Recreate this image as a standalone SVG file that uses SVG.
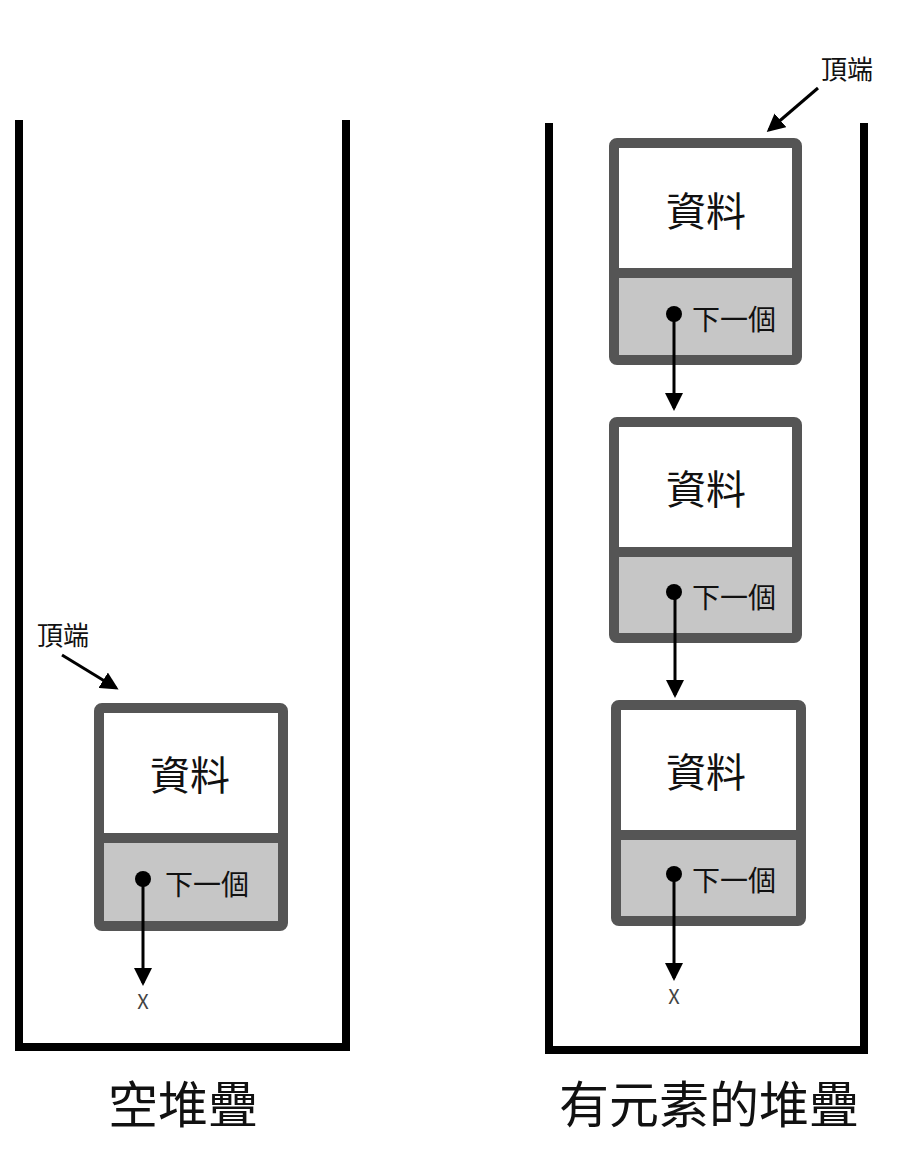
<svg xmlns="http://www.w3.org/2000/svg" width="920" height="1152" viewBox="0 0 920 1152">
<style>
.wall{fill:none;stroke:#000;stroke-width:8}
.box{fill:#fff;stroke:#555;stroke-width:10}
.low{fill:#c6c6c6}
.div{stroke:#555;stroke-width:10}
.t{font-family:"Noto Sans CJK TC","Noto Sans",sans-serif;fill:#111}
.ln{stroke:#000;stroke-width:3;fill:none}
</style>
<defs><marker id="ah" markerWidth="6" markerHeight="6" refX="5" refY="3" orient="auto" markerUnits="strokeWidth"><path d="M0,0L6,3L0,6z" fill="#000"/></marker></defs>
<g id="stack-empty"><path class="wall" d="M19,120V1047H346V120"/></g>
<g id="stack-full"><path class="wall" d="M549,123V1050H864V123"/></g>
<g id="node-left">
<rect class="box" x="99" y="708" width="184" height="218" rx="3"/>
<rect class="low" x="104" y="843" width="174" height="78"/>
<line class="div" x1="104" y1="838" x2="278" y2="838"/>
<text class="t" x="190" y="790" font-size="40" text-anchor="middle">資料</text>
<text class="t" x="165" y="895" font-size="28">下一個</text>
<circle cx="143" cy="879" r="8" fill="#000"/>
</g>
<g id="node-r1">
<rect class="box" x="614" y="143" width="183" height="217" rx="3"/>
<rect class="low" x="619" y="278" width="173" height="77"/>
<line class="div" x1="619" y1="273" x2="792" y2="273"/>
<text class="t" x="706" y="226" font-size="40" text-anchor="middle">資料</text>
<text class="t" x="692" y="330" font-size="28">下一個</text>
<circle cx="674" cy="314" r="8" fill="#000"/>
</g>
<g id="node-r2">
<rect class="box" x="614" y="422" width="183" height="216" rx="3"/>
<rect class="low" x="619" y="557" width="173" height="76"/>
<line class="div" x1="619" y1="552" x2="792" y2="552"/>
<text class="t" x="706" y="504" font-size="40" text-anchor="middle">資料</text>
<text class="t" x="692" y="608" font-size="28">下一個</text>
<circle cx="674" cy="592" r="8" fill="#000"/>
</g>
<g id="node-r3">
<rect class="box" x="616" y="705" width="185" height="216" rx="3"/>
<rect class="low" x="621" y="840" width="175" height="76"/>
<line class="div" x1="621" y1="835" x2="796" y2="835"/>
<text class="t" x="706" y="787" font-size="40" text-anchor="middle">資料</text>
<text class="t" x="692" y="891" font-size="28">下一個</text>
<circle cx="674" cy="874" r="8" fill="#000"/>
</g>
<g id="connectors">
<line class="ln" x1="143" y1="879" x2="143" y2="983" marker-end="url(#ah)"/>
<line class="ln" x1="674" y1="314" x2="674" y2="408" marker-end="url(#ah)"/>
<line class="ln" x1="675" y1="592" x2="675" y2="695" marker-end="url(#ah)"/>
<line class="ln" x1="674" y1="874" x2="674" y2="978" marker-end="url(#ah)"/>
<line class="ln" x1="62" y1="655" x2="116" y2="688" marker-end="url(#ah)"/>
<line class="ln" x1="818" y1="88" x2="769" y2="130" marker-end="url(#ah)"/>
</g>
<text class="t" x="143" y="1009" font-size="20" text-anchor="middle" style="fill:#444">X</text>
<text class="t" x="674" y="1004" font-size="20" text-anchor="middle" style="fill:#444">X</text>
<text class="t" x="37" y="645" font-size="26">頂端</text>
<text class="t" x="821" y="79" font-size="26">頂端</text>
<text class="t" x="183" y="1123" font-size="50" text-anchor="middle">空堆疊</text>
<text class="t" x="709" y="1123" font-size="50" text-anchor="middle">有元素的堆疊</text>
</svg>
